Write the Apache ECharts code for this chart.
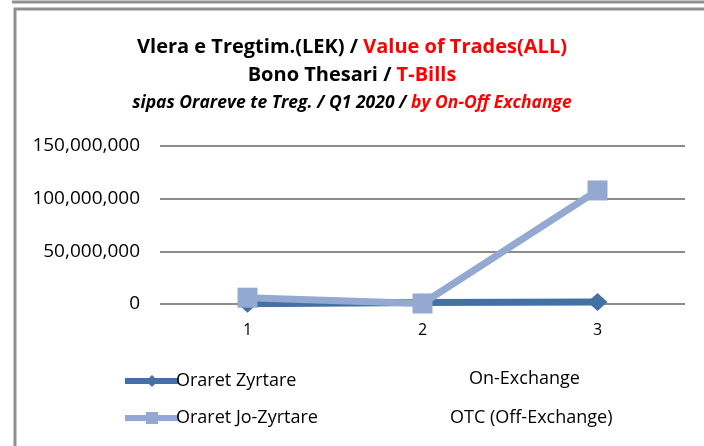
<!DOCTYPE html>
<html>
<head>
<meta charset="utf-8">
<script src="https://cdn.jsdelivr.net/npm/echarts@6/dist/echarts.min.js"></script>
<style>
  html, body { margin: 0; padding: 0; background: #fff; }
  #chart { width: 704px; height: 446px; }
</style>
</head>
<body>
<div id="chart"></div>
<script>
// data
const categories = ['1', '2', '3']
const oraretZyrtare = [300000, 1500000, 1900000]
const oraretJoZyrtare = [6000000, 500000, 107800000]
const yTicks = [0, 50000000, 100000000, 150000000]

const seriesNames = ['Oraret Zyrtare', 'Oraret Jo-Zyrtare']
const seriesNotes = ['On-Exchange', 'OTC (Off-Exchange)']

const FONT = "'Open Sans', 'Noto Sans', sans-serif"
const DARK = '#4470a6'
const LIGHT = '#93a9d2'

const chart = echarts.init(document.getElementById('chart'), null, { renderer: 'canvas' })

const fmt = (v) => v.toLocaleString('en-US')

chart.setOption({
  animation: false,
  textStyle: { fontFamily: FONT },
  title: {
    left: 'center',
    top: 28,
    text: '{b|Vlera e Tregtim.(LEK) / }{r|Value of Trades(ALL)}\n{b|Bono Thesari / }{r|T-Bills}\n{i|sipas Orareve te Treg. / Q1 2020 / }{ir|by On-Off Exchange}',
    textStyle: {
      rich: {
        b: { fontFamily: FONT, fontSize: 20, fontWeight: 'bold', color: '#000', lineHeight: 28 },
        r: { fontFamily: FONT, fontSize: 20, fontWeight: 'bold', color: '#ff0000', lineHeight: 28 },
        i: { fontFamily: FONT, fontSize: 17.5, fontWeight: 'bold', fontStyle: 'italic', color: '#000', lineHeight: 28 },
        ir: { fontFamily: FONT, fontSize: 17.5, fontWeight: 'bold', fontStyle: 'italic', color: '#ff0000', lineHeight: 28 }
      }
    }
  },
  grid: { left: 160, right: 19, top: 146, height: 158 },
  xAxis: {
    type: 'category',
    data: categories,
    boundaryGap: true,
    axisLine: { show: false },
    axisTick: { show: false },
    axisLabel: { color: '#000', fontSize: 16, margin: 18, fontFamily: FONT }
  },
  yAxis: {
    type: 'value',
    min: yTicks[0],
    max: yTicks[yTicks.length - 1],
    interval: 50000000,
    axisLine: { show: false },
    axisTick: { show: false },
    splitLine: { lineStyle: { color: '#8c8c8c', width: 2 } },
    axisLabel: { color: '#000', fontSize: 19, margin: 20, fontFamily: FONT, formatter: fmt }
  },
  legend: {
    orient: 'vertical',
    left: 117,
    top: 367,
    itemGap: 19,
    itemWidth: 54,
    itemHeight: 15,
    data: seriesNames,
    lineStyle: { width: 6 },
    textStyle: { color: '#000', fontSize: 18, fontFamily: FONT, padding: [0, 0, 0, -8] }
  },
  graphic: [
    { type: 'rect', shape: { x: 15, y: 9, width: 720, height: 460 }, style: { fill: 'none', stroke: '#909090', lineWidth: 3 }, silent: true },
    { type: 'line', shape: { x1: 12, y1: 2, x2: 704, y2: 2 }, style: { stroke: '#909090', lineWidth: 3 }, silent: true },
    { type: 'text', left: 469, top: 370, style: { text: seriesNotes[0], fill: '#000', font: '18px ' + FONT } },
    { type: 'text', left: 450, top: 409, style: { text: seriesNotes[1], fill: '#000', font: '18px ' + FONT } }
  ],
  series: [
    {
      name: seriesNames[0],
      type: 'line',
      data: oraretZyrtare,
      symbol: 'diamond',
      symbolSize: [20, 18],
      lineStyle: { color: DARK, width: 7 },
      itemStyle: { color: DARK },
      z: 2
    },
    {
      name: seriesNames[1],
      type: 'line',
      data: oraretJoZyrtare,
      symbol: 'rect',
      symbolSize: 20,
      lineStyle: { color: LIGHT, width: 7 },
      itemStyle: { color: LIGHT },
      z: 3
    }
  ]
})
</script>
</body>
</html>
